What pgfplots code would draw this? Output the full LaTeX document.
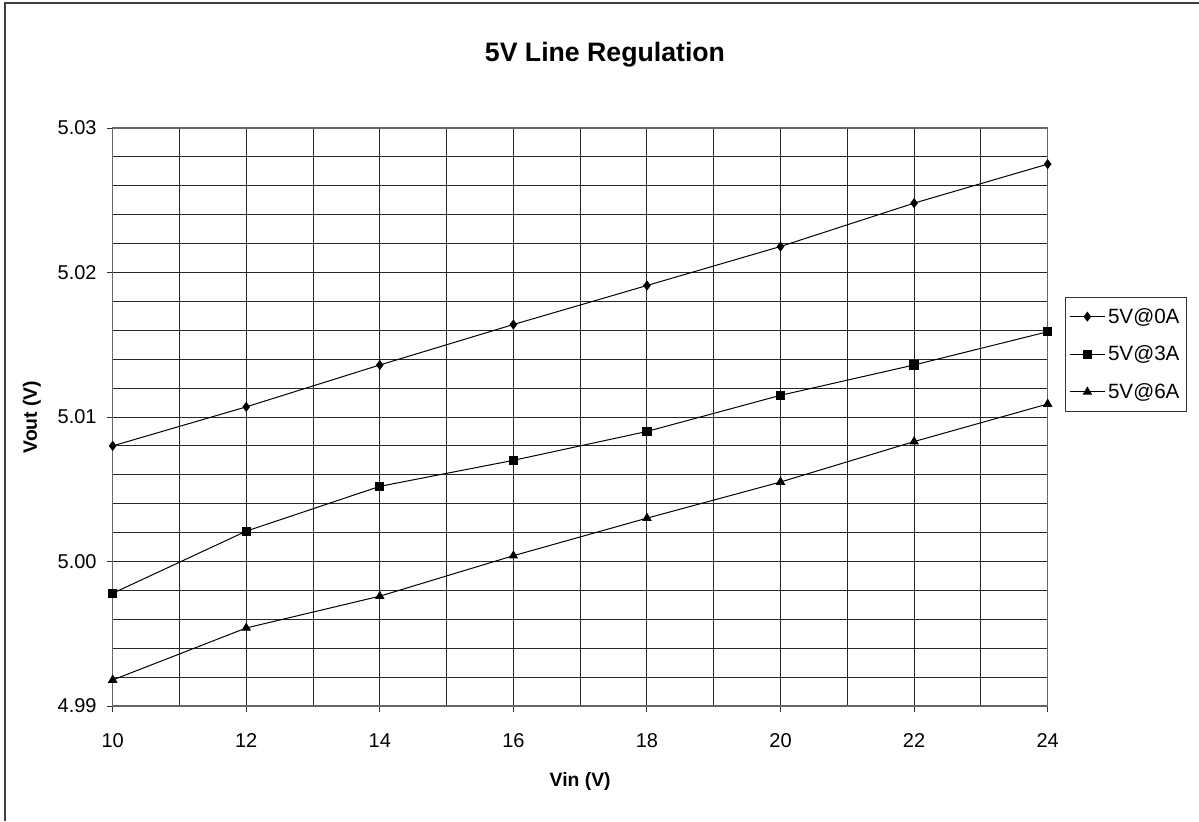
\documentclass[border=0pt]{standalone}
\usepackage{pgfplots}
\pgfplotsset{compat=1.18}
\usepackage{fontspec}
\setmainfont{Liberation Sans}
\begin{document}
\begin{tikzpicture}[x=0.75pt,y=0.75pt]
\useasboundingbox (0,0) rectangle (1199,821);
\draw[black!75,line width=0.9pt] (5,0) -- (5,818) -- (1199,818);
\node[font=\bfseries\fontsize{20}{24}\selectfont] at (605,766) {5V Line Regulation};
\begin{axis}[
  at={(84.5pt,86.25pt)}, anchor=south west,
  scale only axis, width=701.25pt, height=433.5pt,
  xmin=10, xmax=24, ymin=4.99, ymax=5.03,
  xtick={10,12,...,24},
  minor xtick={11,13,...,23},
  ytick={4.99,5.00,5.01,5.02,5.03},
  minor ytick={4.992,4.994,4.996,4.998,5.002,5.004,5.006,5.008,5.012,5.014,5.016,5.018,5.022,5.024,5.026,5.028},
  grid=both,
  grid style={black!85, line width=0.7pt},
  minor grid style={black!85, line width=0.7pt},
  axis line style={black!60, line width=0.8pt},
  tick align=outside,
  major tick length=4.5pt, minor tick length=0pt,
  tick style={black!80, line width=0.7pt},
  xtick pos=bottom, ytick pos=left,
  /pgf/number format/assume math mode=true,
  ticklabel style={font=\fontsize{15}{18}\selectfont},
  yticklabel style={xshift=-4pt,/pgf/number format/.cd, fixed, fixed zerofill, precision=2},
  xticklabel style={text height=11pt, text depth=0pt, yshift=-12pt,/pgf/number format/.cd, fixed, precision=0},
  xlabel={Vin (V)}, ylabel={Vout (V)},
  label style={font=\bfseries\fontsize{14.5}{17}\selectfont},
  xlabel style={at={(axis description cs:0.5,0)}, anchor=center, yshift=-57pt},
  ylabel style={at={(axis description cs:0,0.5)}, anchor=center, yshift=60.5pt},
  legend style={at={(axis description cs:1.0185,0.7076)}, anchor=north west,
    draw=black!80, line width=0.7pt, font=\fontsize{15.5}{18}\selectfont,
    inner xsep=3pt, inner ysep=6pt, row sep=11.5pt, cells={anchor=west}},
  legend image code/.code={\draw[#1,mark repeat=2,mark phase=2] plot coordinates {(0cm,0cm) (0.46cm,0cm) (0.92cm,0cm)};},
  every axis plot/.append style={black, line width=0.75pt, mark options={solid,fill=black}},
]
\addplot[mark=diamond*, mark size=3.2pt] coordinates {
(10,5.0080) (12,5.0107) (14,5.0136) (16,5.0164) (18,5.0191) (20,5.0218) (22,5.0248) (24,5.0275)};
\addlegendentry{5V@0A}
\addplot[mark=square*, mark size=3.1pt] coordinates {
(10,4.9978) (12,5.0021) (14,5.0052) (16,5.0070) (18,5.0090) (20,5.0115) (22,5.0136) (24,5.0159)};
\addlegendentry{5V@3A}
\addplot[mark=triangle*, mark size=3.4pt] coordinates {
(10,4.9918) (12,4.9954) (14,4.9976) (16,5.0004) (18,5.0030) (20,5.0055) (22,5.0083) (24,5.0109)};
\addlegendentry{5V@6A}
\end{axis}
\end{tikzpicture}
\end{document}
